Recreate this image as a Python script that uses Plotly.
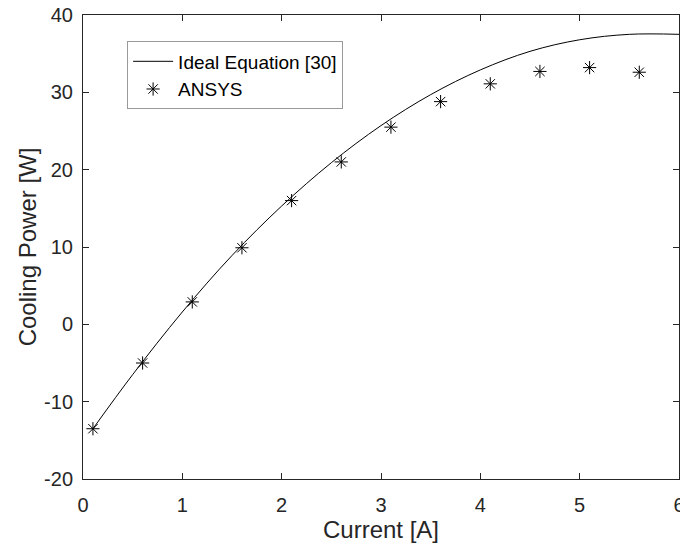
import plotly.graph_objects as go

# Ideal Equation [30] curve
ideal_current = [0.1, 0.5, 1.0, 1.5, 2.0, 2.5, 3.0, 3.5, 4.0, 4.5, 5.0, 5.5, 6.0]
ideal_power = [-13.5, -6.5, 1.6, 8.9, 15.3, 20.9, 25.7, 29.7, 32.9, 35.3, 36.8, 37.5, 37.5]

# ANSYS points
ansys_current = [0.1, 0.6, 1.1, 1.6, 2.1, 2.6, 3.1, 3.6, 4.1, 4.6, 5.1, 5.6]
ansys_power = [-13.5, -5.0, 2.9, 9.9, 16.0, 21.0, 25.5, 28.8, 31.1, 32.7, 33.2, 32.6]

# tick labels
x_ticks = [0, 1, 2, 3, 4, 5, 6]
x_tick_text = ["0", "1", "2", "3", "4", "5", "6"]
y_ticks = [-20, -10, 0, 10, 20, 30, 40]
y_tick_text = ["-20", "-10", "0", "10", "20", "30", "40"]

FONT = "Arial, Liberation Sans, Helvetica, sans-serif"
AX = "#262626"

fig = go.Figure()
fig.add_trace(go.Scatter(
    x=ideal_current, y=ideal_power, mode="lines", name="Ideal Equation [30]",
    line=dict(color="black", width=1, shape="spline"),
))
fig.add_trace(go.Scatter(
    x=ansys_current, y=ansys_power, mode="markers", name="ANSYS",
    marker=dict(symbol="asterisk-open", size=11, color="black",
                line=dict(color="black", width=1)),
))

axis_common = dict(
    showline=True, linecolor=AX, linewidth=1, mirror="ticks",
    ticks="inside", ticklen=6, tickcolor=AX, tickwidth=1,
    showgrid=False, zeroline=False, ticklabeloverflow="allow",
    automargin=False,
    tickfont=dict(family=FONT, size=20, color=AX),
)

fig.update_layout(
    width=680, height=548,
    margin=dict(l=83, r=1, t=15, b=69),
    paper_bgcolor="white", plot_bgcolor="white",
    font=dict(family=FONT, color=AX),
    xaxis=dict(range=[0, 6], tickmode="array", tickvals=x_ticks, ticktext=x_tick_text,
               ticklabelstandoff=8,
               title=dict(text="Current [A]", font=dict(family=FONT, size=24, color=AX), standoff=4),
               **axis_common),
    yaxis=dict(range=[-20, 40], tickmode="array", tickvals=y_ticks, ticktext=y_tick_text,
               ticklabelstandoff=5,
               title=dict(text="Cooling Power [W]", font=dict(family=FONT, size=24, color=AX), standoff=0),
               **axis_common),
    legend=dict(x=0.074, y=0.943, xanchor="left", yanchor="top",
                bgcolor="white", bordercolor="#999999", borderwidth=1,
                font=dict(family=FONT, size=19, color="black"),
                tracegroupgap=0, itemwidth=40),
    showlegend=True,
)

fig.write_html("out.html")
